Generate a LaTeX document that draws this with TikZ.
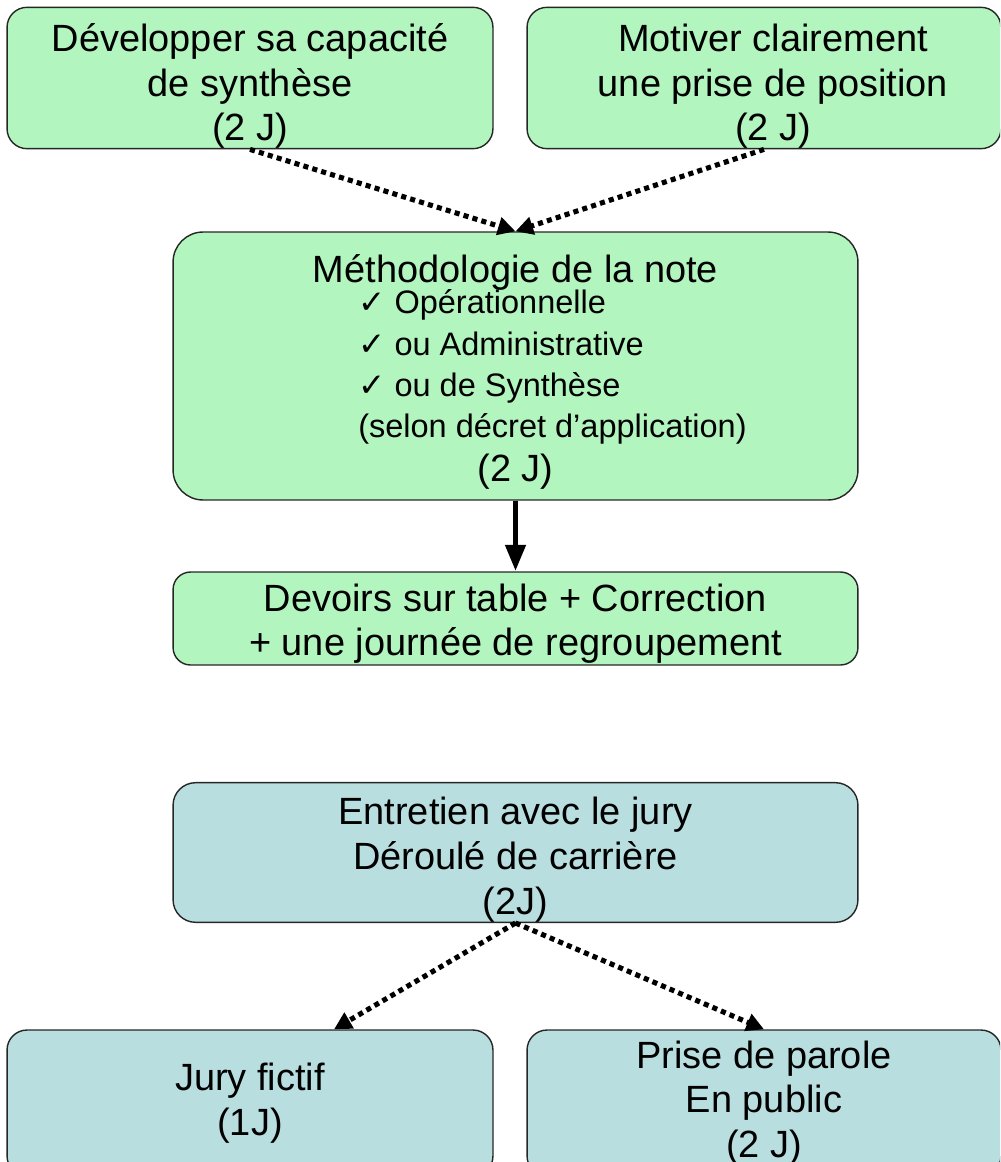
\documentclass[tikz,border=0pt]{standalone}
\usepackage{fontspec}
\setmainfont{Liberation Sans}
\newfontfamily\symfont{DejaVu Sans}
\usetikzlibrary{arrows.meta}

\definecolor{boxgreen}{RGB}{178,245,190}
\definecolor{boxblue}{RGB}{184,222,224}

\newcommand{\ck}{{\symfont ✓}}
\newcommand{\tg}[1]{\rule{0pt}{#1}}% pushes the text a bit lower
\newcommand{\rs}{\hspace*{0.36cm}}% pushes a line a bit to the right

\tikzset{
  box/.style={draw=black!85, line width=0.8pt, align=center, inner sep=0pt,
    font=\fontsize{21.6}{25.5}\selectfont},
  greenbox/.style={box, fill=boxgreen},
  bluebox/.style={box, fill=boxblue},
  dotarrow/.style={line width=2.9pt, dash pattern=on 2.9pt off 2.4pt,
    -{Triangle[length=10pt,width=10pt]}},
  mainarrow/.style={line width=3.4pt, -{Triangle[length=15pt,width=11pt]}}
}

\begin{document}
\begin{tikzpicture}[x=0.02cm, y=-0.02cm]
  \useasboundingbox (0,0) rectangle (1000,1162);
  \clip (0,0) rectangle (1000,1162);

  % module note
  \node[greenbox, rounded corners=0.4cm, minimum width=9.72cm, minimum height=2.8cm]
    (DS) at (250,78) {\tg{25pt}Développer sa capacité\\de synthèse\\(2 J)};
  \node[greenbox, rounded corners=0.4cm, minimum width=9.48cm, minimum height=2.8cm]
    (MP) at (764,78) {\rs\tg{25pt}Motiver clairement\\\rs une prise de position\\\rs(2 J)};
  \node[greenbox, rounded corners=0.6cm, minimum width=13.7cm, minimum height=5.36cm]
    (M) at (515.5,366) {\begin{tabular}{@{}c@{}}
      \tg{25.9pt}Méthodologie de la note\\[-7.7pt]
      {\fontsize{18.5}{23.5}\selectfont\hspace*{1.48cm}\begin{tabular}[t]{@{}l@{}}
        \ck\ Opérationnelle\\
        \ck\ ou Administrative\\
        \ck\ ou de Synthèse\\
        (selon décret d’application)
      \end{tabular}}\\
      (2 J)
    \end{tabular}};
  \node[greenbox, rounded corners=0.35cm, minimum width=13.7cm, minimum height=1.86cm]
    (D) at (515.5,618.5) {\tg{21.5pt}Devoirs sur table + Correction\\+ une journée de regroupement};

  % module oral
  \node[bluebox, rounded corners=0.45cm, minimum width=13.7cm, minimum height=2.78cm]
    (E) at (515.5,852.5) {\tg{24pt}Entretien avec le jury\\Déroulé de carrière\\(2J)};
  \node[bluebox, rounded corners=0.4cm, minimum width=9.72cm, minimum height=2.92cm]
    (JF) at (250,1103) {Jury fictif\\(1J)};
  \node[bluebox, rounded corners=0.4cm, minimum width=9.48cm, minimum height=2.92cm]
    (PP) at (764,1103) {Prise de parole\\En public\\(2 J)};

  \draw[dotarrow] (DS.south) -- (M.north);
  \draw[dotarrow] (MP.south) -- (M.north);
  \draw[mainarrow] (M) -- (D);
  \draw[dotarrow] (E.south) -- ([xshift=1.68cm]JF.north);
  \draw[dotarrow] (E.south) -- (PP.north);
\end{tikzpicture}
\end{document}
